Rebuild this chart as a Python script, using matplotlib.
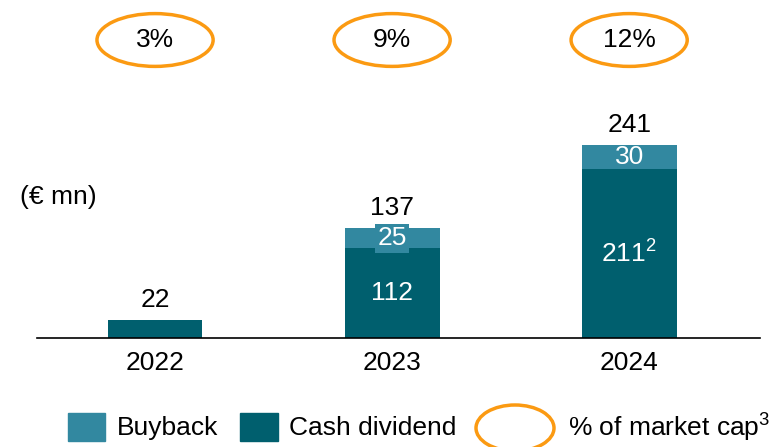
import matplotlib
matplotlib.use('Agg')
import matplotlib.pyplot as plt
from matplotlib.patches import Ellipse, Rectangle

years = ['2022', '2023', '2024']
cash_dividend = [22, 112, 211]
buyback = [0, 25, 30]
totals = [22, 137, 241]
market_cap_pct = ['3%', '9%', '12%']
cash_labels = ['', '112', '211$^{2}$']
buyback_labels = ['', '25', '30']

c_buy = '#3288a0'
c_cash = '#005f6e'
c_orange = '#fb9a12'
FS = 19

plt.rcParams['font.family'] = ['Liberation Sans', 'DejaVu Sans']
plt.rcParams['mathtext.fontset'] = 'custom'
plt.rcParams['mathtext.rm'] = 'Liberation Sans'
plt.rcParams['mathtext.it'] = 'Liberation Sans'

W, H = 774, 447
fig = plt.figure(figsize=(W / 100, H / 100), dpi=100)
ax = fig.add_axes([37 / W, 109 / H, 723 / W, 338 / H])

x = list(range(len(years)))
ax.bar(x, cash_dividend, width=0.40, color=c_cash)
ax.bar(x, buyback, width=0.40, bottom=cash_dividend, color=c_buy)

ax.set_xlim(-0.498, 2.552)
ax.set_ylim(0, 422.5)

for i in x:
    ax.text(i, totals[i] + 10, str(totals[i]), ha='center', va='bottom', fontsize=FS)
    if cash_labels[i]:
        ax.text(i, cash_dividend[i] / 2, cash_labels[i], ha='center', va='center',
                fontsize=FS, color='white')
    if buyback_labels[i]:
        bb = None
        if i == 1:
            bb = dict(boxstyle='square,pad=0.1', fc=c_buy, ec='none')
        ax.text(i, cash_dividend[i] + buyback[i] / 2, buyback_labels[i], ha='center',
                va='center', fontsize=FS, color='white', bbox=bb)
    ax.add_patch(Ellipse((i, 372.5), 0.49, 66, fill=False, ec=c_orange, lw=2.5,
                         clip_on=False))
    ax.text(i, 372.5, market_cap_pct[i], ha='center', va='center', fontsize=FS)

ax.set_xticks(x)
ax.set_xticklabels(years, fontsize=FS)
ax.tick_params(axis='x', length=0, pad=9)
ax.set_yticks([])
for s in ['top', 'right', 'left']:
    ax.spines[s].set_visible(False)
ax.spines['bottom'].set_linewidth(1.2)

fig.text(20 / W, 1 - 197 / H, '(€ mn)', ha='left', va='center', fontsize=FS)

# legend
fig.add_artist(Rectangle((68 / W, 1 - 441 / H), 37 / W, 28 / H, color=c_buy,
                         transform=fig.transFigure))
fig.text(117 / W, 1 - 428 / H, 'Buyback', ha='left', va='center', fontsize=FS)
fig.add_artist(Rectangle((240 / W, 1 - 441 / H), 38 / W, 28 / H, color=c_cash,
                         transform=fig.transFigure))
fig.text(289 / W, 1 - 428 / H, 'Cash dividend', ha='left', va='center', fontsize=FS)
fig.add_artist(Ellipse((515 / W, 1 - 428 / H), 78 / W, 46 / H, fill=False,
                       ec=c_orange, lw=2.5, transform=fig.transFigure))
fig.text(568 / W, 1 - 428 / H, '% of market cap$^{3}$', ha='left', va='center',
         fontsize=FS)

fig.savefig('out.png', dpi=100)
